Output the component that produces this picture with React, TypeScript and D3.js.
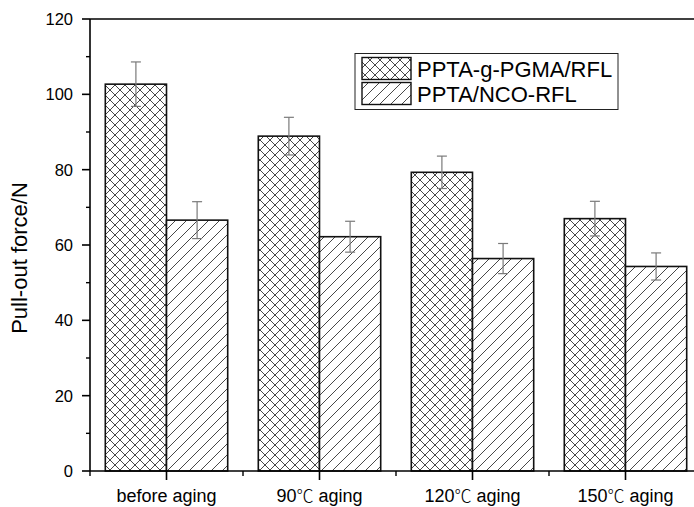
import React from "react";
import * as d3 from "d3";

const categories = ["before aging", "90℃ aging", "120℃ aging", "150℃ aging"];
const seriesNames = ["PPTA-g-PGMA/RFL", "PPTA/NCO-RFL"];
const seriesA = [102.7, 88.9, 79.3, 67.0];
const errA = [5.9, 5.0, 4.3, 4.6];
const seriesB = [66.6, 62.2, 56.4, 54.3];
const errB = [4.9, 4.1, 4.0, 3.6];
const yTicks = [0, 20, 40, 60, 80, 100, 120];

const W = 694, H = 507;
const L = 90, R = 702, T = 19, B = 471;

function Label({ text, x, y, size }: { text: string; x: number; y: number; size: number }) {
  const parts = text.split("℃");
  return (
    <text x={x} y={y} textAnchor="middle" fontSize={size}>
      {parts.length === 1 ? text : (
        <>
          <tspan>{parts[0]}</tspan>
          <tspan fontFamily="'Noto Sans CJK SC', sans-serif" fontWeight={300} fontSize={size * 0.95}>℃</tspan>
          <tspan>{parts[1]}</tspan>
        </>
      )}
    </text>
  );
}

export default function App() {
  const y = d3.scaleLinear().domain([0, 120]).range([B, T]);
  const x = d3.scaleBand<string>().domain(categories).range([L, R]).paddingInner(0.2).paddingOuter(0.1);
  const step = x.step();
  const xs = d3.scaleBand<string>().domain(seriesNames).range([0, x.bandwidth()]);
  const series = [
    { name: seriesNames[0], vals: seriesA, errs: errA, fill: "url(#cross)" },
    { name: seriesNames[1], vals: seriesB, errs: errB, fill: "url(#diag)" },
  ];
  const minorY = d3.range(10, 120, 20);
  const bounds = d3.range(0, categories.length + 1).map(i => L + i * step);
  const font = "Arial, 'Liberation Sans', sans-serif";
  const cp = 10; // cross pattern size
  const dp = 11; // diagonal pattern size
  return (
    <svg width={W} height={H} style={{ position: "absolute", left: 0, top: 0, background: "#fff" }} fontFamily={font}>
      <defs>
        <pattern id="cross" patternUnits="userSpaceOnUse" width={cp} height={cp}>
          <rect width={cp} height={cp} fill="#fff" />
          <path d={`M0,0 L${cp},${cp} M${cp},0 L0,${cp}`} stroke="#333" strokeWidth={0.9} />
        </pattern>
        <pattern id="diag" patternUnits="userSpaceOnUse" width={dp} height={dp}>
          <rect width={dp} height={dp} fill="#fff" />
          <path d={`M-2,2 L2,-2 M0,${dp} L${dp},0 M${dp - 2},${dp + 2} L${dp + 2},${dp - 2}`} stroke="#333" strokeWidth={0.9} />
        </pattern>
      </defs>
      {series.map(s => (
        <g key={s.name}>
          {categories.map((c, i) => {
            const x0 = (x(c) as number) + (xs(s.name) as number);
            return (
              <rect key={c} x={x0} y={y(s.vals[i])} width={xs.bandwidth()} height={B - y(s.vals[i])}
                fill={s.fill} stroke="#111" strokeWidth={1.6} />
            );
          })}
        </g>
      ))}
      {series.map(s => (
        <g key={s.name + "e"} stroke="#7a7a7a" strokeWidth={1.2}>
          {categories.map((c, i) => {
            const cx = (x(c) as number) + (xs(s.name) as number) + xs.bandwidth() / 2;
            const yt = y(s.vals[i] + s.errs[i]);
            const yb = y(s.vals[i] - s.errs[i]);
            return (
              <g key={c}>
                <line x1={cx} x2={cx} y1={yt} y2={yb} />
                <line x1={cx - 5} x2={cx + 5} y1={yt} y2={yt} />
                <line x1={cx - 5} x2={cx + 5} y1={yb} y2={yb} />
              </g>
            );
          })}
        </g>
      ))}
      <line x1={L} x2={R} y1={T} y2={T} stroke="#000" strokeWidth={1.6} />
      <line x1={L} x2={L} y1={T} y2={B} stroke="#000" strokeWidth={1.6} />
      <line x1={L} x2={R} y1={B} y2={B} stroke="#000" strokeWidth={1.6} />
      {yTicks.map(t => (
        <g key={t}>
          <line x1={L - 8} x2={L} y1={y(t)} y2={y(t)} stroke="#000" strokeWidth={1.6} />
          <text x={L - 17} y={y(t)} dy="0.36em" textAnchor="end" fontSize={16.5}>{t}</text>
        </g>
      ))}
      {minorY.map(t => (
        <line key={t} x1={L - 4} x2={L} y1={y(t)} y2={y(t)} stroke="#000" strokeWidth={1.4} />
      ))}
      {categories.map(c => {
        const cx = (x(c) as number) + x.bandwidth() / 2;
        return (
          <g key={c}>
            <line x1={cx} x2={cx} y1={B} y2={B + 9} stroke="#000" strokeWidth={1.6} />
            <Label text={c} x={cx} y={B + 31} size={18} />
          </g>
        );
      })}
      {bounds.map((b, i) => (
        <line key={i} x1={b} x2={b} y1={B} y2={B + 5} stroke="#000" strokeWidth={1.4} />
      ))}
      <text transform={`translate(27,258) rotate(-90)`} textAnchor="middle" fontSize={22}>Pull-out force/N</text>
      <rect x={355} y={53.5} width={263} height={56} fill="#fff" stroke="#222" strokeWidth={1} />
      {series.map((s, i) => (
        <g key={s.name + "l"}>
          <rect x={362} y={57.5 + i * 25} width={49} height={22} fill={s.fill} stroke="#111" strokeWidth={1.4} />
          <text x={417} y={76.5 + i * 25.5} fontSize={22}>{s.name}</text>
        </g>
      ))}
    </svg>
  );
}
